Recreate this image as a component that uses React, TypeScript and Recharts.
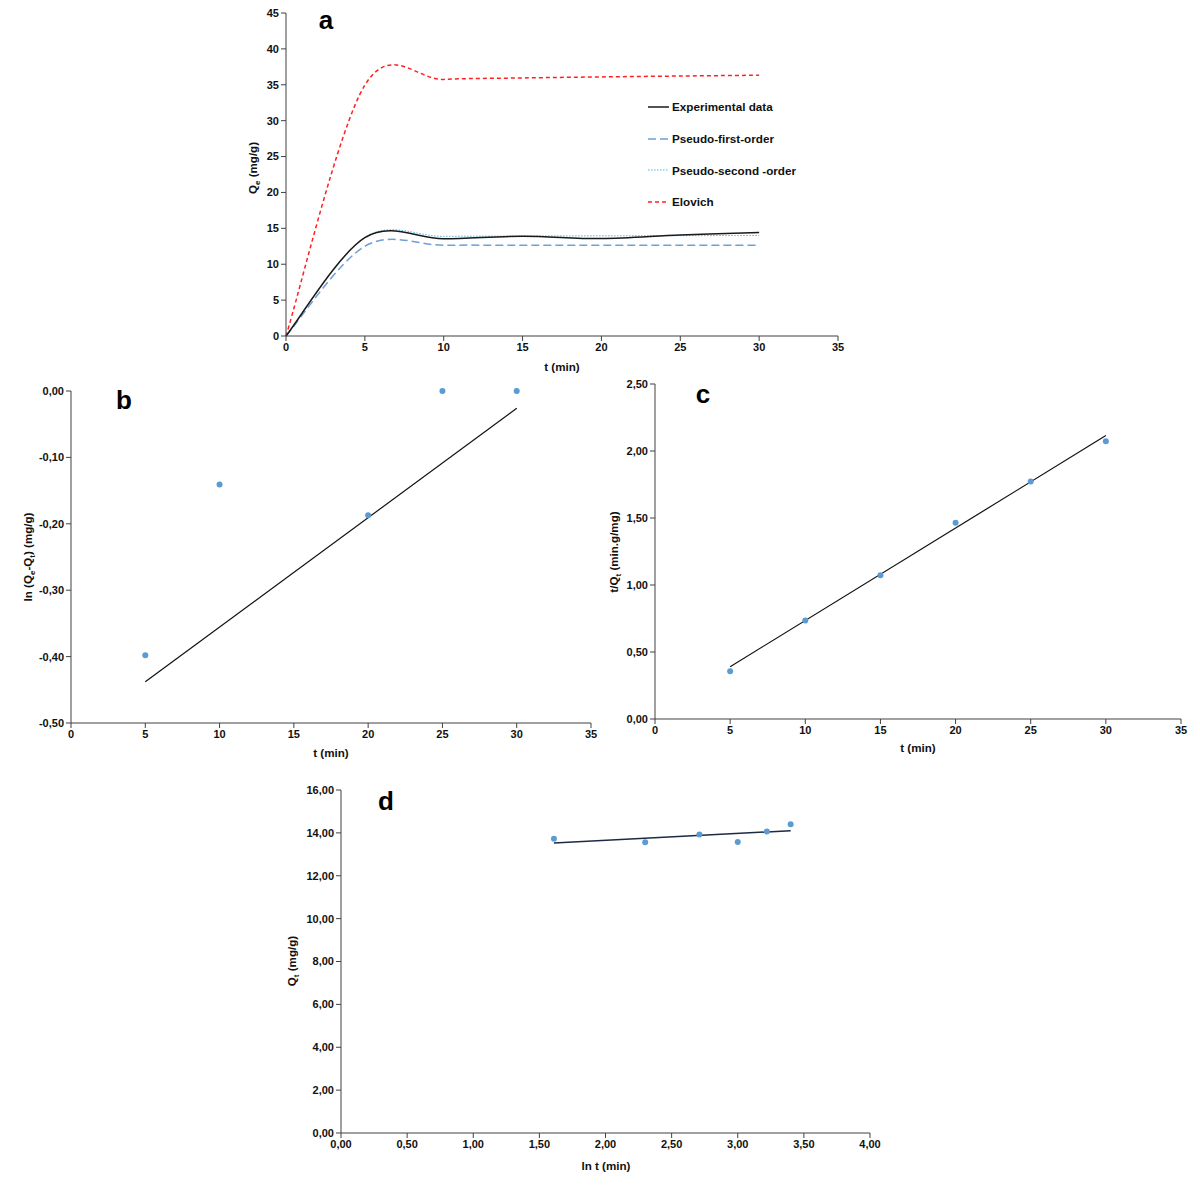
import React from 'react';
import { LineChart, ComposedChart, Line, Scatter, XAxis, YAxis, Legend, Label } from 'recharts';

// ---------- Panel a : kinetic curves ----------
const tA = [0, 5, 10, 15, 20, 25, 30];
const expA = [0, 13.7, 13.55, 13.9, 13.57, 14.07, 14.42];
const pfoA = [0, 12.5, 12.65, 12.65, 12.65, 12.65, 12.65];
const psoA = [0, 13.75, 13.88, 13.93, 13.96, 13.98, 14.0];
const elovA = [0, 34.95, 35.75, 35.95, 36.1, 36.22, 36.33];
const ticksAx = [0, 5, 10, 15, 20, 25, 30, 35];
const ticksAy = [0, 5, 10, 15, 20, 25, 30, 35, 40, 45];
const legendNames = ['Experimental data', 'Pseudo-first-order', 'Pseudo-second -order', 'Elovich'];

// ---------- Panel b : pseudo-first-order linear plot ----------
const tB = [5, 10, 20, 25, 30];
const lnB = [-0.398, -0.141, -0.187, 0, 0];
const tBfit = [5, 30];
const lnBfit = [-0.438, -0.026];
const ticksBx = [0, 5, 10, 15, 20, 25, 30, 35];
const ticksBy = [-0.5, -0.4, -0.3, -0.2, -0.1, 0];

// ---------- Panel c : pseudo-second-order linear plot ----------
const tC = [5, 10, 15, 20, 25, 30];
const ratioC = [0.357, 0.735, 1.072, 1.465, 1.773, 2.073];
const tCfit = [5, 30];
const ratioCfit = [0.39, 2.115];
const ticksCx = [0, 5, 10, 15, 20, 25, 30, 35];
const ticksCy = [0, 0.5, 1, 1.5, 2, 2.5];

// ---------- Panel d : Elovich linear plot ----------
const lnTD = [1.61, 2.3, 2.71, 3.0, 3.22, 3.4];
const qD = [13.73, 13.56, 13.92, 13.58, 14.06, 14.4];
const lnTDfit = [1.61, 3.4];
const qDfit = [13.53, 14.1];
const ticksDx = [0, 0.5, 1, 1.5, 2, 2.5, 3, 3.5, 4];
const ticksDy = [0, 2, 4, 6, 8, 10, 12, 14, 16];

const rowsA = tA.map((t, i) => ({ t, exp: expA[i], pfo: pfoA[i], pso: psoA[i], elov: elovA[i] }));
const pts = (xs: number[], ys: number[]) => xs.map((x, i) => ({ x, y: ys[i] }));

const fmt2 = (v: number) => v.toFixed(2).replace('.', ',');

// Excel-like smoothed line (Catmull-Rom as cubic Bezier)
const excelSmooth: any = (context: any) => {
  let p: number[][] = [];
  return {
    areaStart() {},
    areaEnd() {},
    lineStart() { p = []; },
    point(x: number, y: number) { p.push([+x, +y]); },
    lineEnd() {
      const n = p.length;
      if (!n) return;
      context.moveTo(p[0][0], p[0][1]);
      const k = 1 / 6;
      for (let i = 0; i < n - 1; i++) {
        const p0 = p[Math.max(i - 1, 0)], p1 = p[i], p2 = p[i + 1], p3 = p[Math.min(i + 2, n - 1)];
        context.bezierCurveTo(
          p1[0] + (p2[0] - p0[0]) * k, p1[1] + (p2[1] - p0[1]) * k,
          p2[0] - (p3[0] - p1[0]) * k, p2[1] - (p3[1] - p1[1]) * k,
          p2[0], p2[1]
        );
      }
    },
  };
};

const AX = '#404040';
const TXT = '#111';
const FONT = '"Liberation Sans", Arial, sans-serif';
const tickStyle = { fill: TXT, fontSize: 11, fontWeight: 'bold' as const, fontFamily: FONT };
const PT = '#5B9BD5';
const TITLE_SIZE = 11.6;

type Part = { t: string; sub?: boolean };
const renderParts = (parts: Part[]) => {
  const out: any[] = [];
  let shifted = false;
  parts.forEach((pp, i) => {
    if (pp.sub) {
      out.push(<tspan key={i} fontSize={8} dy={shifted ? 0 : 3}>{pp.t}</tspan>);
      shifted = true;
    } else {
      out.push(<tspan key={i} dy={shifted ? -3 : 0}>{pp.t}</tspan>);
      shifted = false;
    }
  });
  return out;
};

const yLabel = (parts: Part[], x: number, y: number) => () => (
  <text transform={`translate(${x},${y}) rotate(-90)`} textAnchor="middle" fontSize={TITLE_SIZE}
    fontWeight="bold" fill={TXT} style={{ fontFamily: FONT }}>
    {renderParts(parts)}
  </text>
);
const xLabel = (text: string, x: number, y: number) => () => (
  <text x={x} y={y} textAnchor="middle" fontSize={TITLE_SIZE} fontWeight="bold" fill={TXT} style={{ fontFamily: FONT }}>
    {text}
  </text>
);

const legendStyles = [
  { color: '#1a1a1a', dash: undefined as string | undefined, w: 1.5 },
  { color: '#6E9FD5', dash: '8 4', w: 1.5 },
  { color: '#4FB8E8', dash: '1.5 1.5', w: 1 },
  { color: '#FF2020', dash: '4 3', w: 1.5 },
];

const renderLegend = () => (
  <div style={{ fontFamily: FONT }}>
    {legendNames.map((name, i) => (
      <div key={name} style={{ display: 'flex', alignItems: 'center', height: 31.7 }}>
        <svg width={24} height={10}>
          <line x1={0} y1={5} x2={21} y2={5} stroke={legendStyles[i].color}
            strokeWidth={legendStyles[i].w} strokeDasharray={legendStyles[i].dash} />
        </svg>
        <span style={{ fontSize: 11.7, fontWeight: 'bold', color: TXT, whiteSpace: 'nowrap' }}>{name}</span>
      </div>
    ))}
  </div>
);

const dotShape = (props: any) => <circle cx={props.cx} cy={props.cy} r={3} fill={PT} />;

export default function App() {
  return (
    <div style={{ position: 'absolute', left: 0, top: 0, width: 1200, height: 1189, background: '#fff', fontFamily: FONT }}>
      {/* Panel a */}
      <div style={{ position: 'absolute', left: 200, top: 0 }}>
        <LineChart width={660} height={390} data={rowsA} margin={{ top: 13, right: 22, bottom: 24, left: 0 }}>
          <XAxis type="number" dataKey="t" domain={[0, 35]} ticks={ticksAx} tick={tickStyle}
            axisLine={{ stroke: AX }} tickLine={{ stroke: AX }} tickSize={5} height={30}>
            <Label content={xLabel('t (min)', 362, 371)} />
          </XAxis>
          <YAxis type="number" domain={[0, 45]} ticks={ticksAy} tick={tickStyle} width={86}
            axisLine={{ stroke: AX }} tickLine={{ stroke: AX }} tickSize={5}>
            <Label content={yLabel([{ t: 'Q' }, { t: 'e', sub: true }, { t: ' (mg/g)' }], 57, 168)} />
          </YAxis>
          <Legend layout="vertical" align="center" verticalAlign="middle" content={renderLegend}
            wrapperStyle={{ left: 448, top: 91, width: 200, height: 130 }} />
          <Line type={excelSmooth} dataKey="pso" stroke={legendStyles[2].color} strokeWidth={1}
            strokeDasharray="1.5 1.5" dot={false} isAnimationActive={false} />
          <Line type={excelSmooth} dataKey="pfo" stroke={legendStyles[1].color} strokeWidth={1.5}
            strokeDasharray="8 4" dot={false} isAnimationActive={false} />
          <Line type={excelSmooth} dataKey="elov" stroke={legendStyles[3].color} strokeWidth={1.5}
            strokeDasharray="4 3" dot={false} isAnimationActive={false} />
          <Line type={excelSmooth} dataKey="exp" stroke={legendStyles[0].color} strokeWidth={1.5}
            dot={false} isAnimationActive={false} />
        </LineChart>
      </div>

      {/* Panel b */}
      <div style={{ position: 'absolute', left: 0, top: 370 }}>
        <ComposedChart width={610} height={400} margin={{ top: 21, right: 19, bottom: 17, left: 0 }}>
          <XAxis type="number" dataKey="x" domain={[0, 35]} ticks={ticksBx} tick={tickStyle}
            axisLine={{ stroke: AX }} tickLine={{ stroke: AX }} tickSize={5} height={30}>
            <Label content={xLabel('t (min)', 331, 387)} />
          </XAxis>
          <YAxis type="number" dataKey="y" domain={[-0.5, 0]} ticks={ticksBy} tickFormatter={fmt2} tick={tickStyle}
            width={71} axisLine={{ stroke: AX }} tickLine={{ stroke: AX }} tickSize={5}>
            <Label content={yLabel([{ t: 'ln (Q' }, { t: 'e', sub: true }, { t: '-Q' }, { t: 't', sub: true }, { t: ') (mg/g)' }], 32, 187)} />
          </YAxis>
          <Line data={pts(tBfit, lnBfit)} dataKey="y" type="linear" stroke="#111" strokeWidth={1.2}
            dot={false} isAnimationActive={false} />
          <Scatter data={pts(tB, lnB)} dataKey="y" fill={PT} shape={dotShape} isAnimationActive={false} />
        </ComposedChart>
      </div>

      {/* Panel c */}
      <div style={{ position: 'absolute', left: 590, top: 370 }}>
        <ComposedChart width={610} height={400} margin={{ top: 14, right: 19, bottom: 21, left: 0 }}>
          <XAxis type="number" dataKey="x" domain={[0, 35]} ticks={ticksCx} tick={tickStyle}
            axisLine={{ stroke: AX }} tickLine={{ stroke: AX }} tickSize={5} height={30}>
            <Label content={xLabel('t (min)', 328, 382)} />
          </XAxis>
          <YAxis type="number" dataKey="y" domain={[0, 2.5]} ticks={ticksCy} tickFormatter={fmt2} tick={tickStyle}
            width={65} axisLine={{ stroke: AX }} tickLine={{ stroke: AX }} tickSize={5}>
            <Label content={yLabel([{ t: 't/Q' }, { t: 't', sub: true }, { t: ' (min.g/mg)' }], 28, 182)} />
          </YAxis>
          <Line data={pts(tCfit, ratioCfit)} dataKey="y" type="linear" stroke="#111" strokeWidth={1.2}
            dot={false} isAnimationActive={false} />
          <Scatter data={pts(tC, ratioC)} dataKey="y" fill={PT} shape={dotShape} isAnimationActive={false} />
        </ComposedChart>
      </div>

      {/* Panel d */}
      <div style={{ position: 'absolute', left: 260, top: 770 }}>
        <ComposedChart width={630} height={419} margin={{ top: 20, right: 20, bottom: 26, left: 0 }}>
          <XAxis type="number" dataKey="x" domain={[0, 4]} ticks={ticksDx} tickFormatter={fmt2} tick={tickStyle}
            axisLine={{ stroke: AX }} tickLine={{ stroke: AX }} tickSize={5} height={30}>
            <Label content={xLabel('ln t (min)', 346, 400)} />
          </XAxis>
          <YAxis type="number" dataKey="y" domain={[0, 16]} ticks={ticksDy} tickFormatter={fmt2} tick={tickStyle}
            width={81} axisLine={{ stroke: AX }} tickLine={{ stroke: AX }} tickSize={5}>
            <Label content={yLabel([{ t: 'Q' }, { t: 't', sub: true }, { t: ' (mg/g)' }], 36, 191)} />
          </YAxis>
          <Line data={pts(lnTDfit, qDfit)} dataKey="y" type="linear" stroke="#1c2a44" strokeWidth={1.5}
            dot={false} isAnimationActive={false} />
          <Scatter data={pts(lnTD, qD)} dataKey="y" fill={PT} shape={dotShape} isAnimationActive={false} />
        </ComposedChart>
      </div>

      {/* Panel letters */}
      <svg width={1200} height={1189} style={{ position: 'absolute', left: 0, top: 0, pointerEvents: 'none' }}>
        <g fontSize={26} fontWeight="bold" fill="#000" style={{ fontFamily: FONT }} textAnchor="middle">
          <text x={326} y={29}>a</text>
          <text x={124} y={409}>b</text>
          <text x={703} y={403}>c</text>
          <text x={386} y={810}>d</text>
        </g>
      </svg>
    </div>
  );
}
